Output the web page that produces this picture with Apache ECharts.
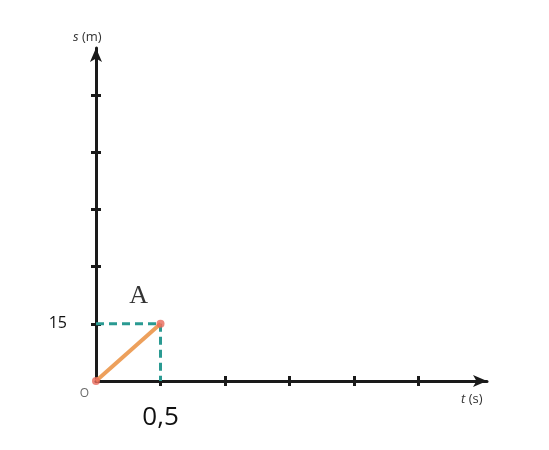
<!DOCTYPE html>
<html>
<head>
<meta charset="utf-8">
<script src="https://cdn.jsdelivr.net/npm/echarts@6/dist/echarts.min.js"></script>
<style>
  html, body { margin: 0; padding: 0; background: #fff; }
  #chart { width: 549px; height: 450px; }
</style>
</head>
<body>
<div id="chart"></div>
<script>
// t in seconds, s in metres
const linePoints = [[0, 0], [0.5, 15]];
const pointNames = ['O', 'A'];
const guideH = [[0, 15], [0.5, 15]];
const guideV = [[0.5, 15], [0.5, 0]];
const xTicks = [0.5, 1, 1.5, 2, 2.5];
const yTicks = [15, 30, 45, 60, 75];
const xShownLabels = { 0.5: '0,5' };
const yShownLabels = { 15: '15' };

const xMin = 0, xMax = 3.03, xStep = 0.5;
const yMin = 0, yMax = 87.3, yStep = 15;

const chart = echarts.init(document.getElementById('chart'));

const axisColor = '#1a1a1a';
const baseX = {
  type: 'value', min: xMin, max: xMax, interval: xStep,
  splitLine: { show: false }
};
const baseY = {
  type: 'value', min: yMin, max: yMax, interval: yStep,
  splitLine: { show: false }
};
const tickStyle = { color: axisColor, width: 3 };

chart.setOption({
  animation: false,
  grid: { left: 96, right: 62, top: 48, bottom: 69, containLabel: false },
  xAxis: [
    {
      ...baseX,
      axisLine: { show: true, symbol: ['none', 'arrow'], symbolSize: [9, 14], lineStyle: { color: axisColor, width: 3 } },
      axisTick: { show: true, length: 5, customValues: xTicks, lineStyle: tickStyle },
      axisLabel: {
        margin: 24, fontSize: 26, color: '#111', fontFamily: 'Open Sans',
        customValues: [0.5],
        formatter: v => xShownLabels[v] || ''
      }
    },
    {
      ...baseX, position: 'bottom',
      axisLine: { show: false },
      axisTick: { show: true, inside: true, length: 5, customValues: xTicks, lineStyle: tickStyle },
      axisLabel: { show: false }
    }
  ],
  yAxis: [
    {
      ...baseY,
      axisLine: { show: true, symbol: ['none', 'arrow'], symbolSize: [9, 14], lineStyle: { color: axisColor, width: 3 } },
      axisTick: { show: true, length: 5, customValues: yTicks, lineStyle: tickStyle },
      axisLabel: {
        margin: 29, fontSize: 16, color: '#111', fontFamily: 'Open Sans',
        customValues: [15],
        formatter: v => yShownLabels[v] || ''
      }
    },
    {
      ...baseY, position: 'left',
      axisLine: { show: false },
      axisTick: { show: true, inside: true, length: 5, customValues: yTicks, lineStyle: tickStyle },
      axisLabel: { show: false }
    }
  ],
  graphic: [
    {
      type: 'text', left: 73, top: 31,
      style: {
        text: '{i|s} (m)', fill: '#333',
        font: '13px "Open Sans"',
        rich: { i: { fontStyle: 'italic', fontSize: 13, fontFamily: 'Open Sans', fill: '#333' } }
      }
    },
    {
      type: 'text', left: 461, top: 393,
      style: {
        text: '{i|t} (s)', fill: '#333',
        font: '13px "Open Sans"',
        rich: { i: { fontStyle: 'italic', fontSize: 13, fontFamily: 'Open Sans', fill: '#333' } }
      }
    }
  ],
  series: [
    {
      type: 'line', data: guideH, symbol: 'none', z: 3,
      lineStyle: { color: '#2a9a92', width: 3, type: [8, 5] }
    },
    {
      type: 'line', data: guideV, symbol: 'none', z: 3,
      lineStyle: { color: '#2a9a92', width: 3, type: [8, 5] }
    },
    {
      type: 'line', data: linePoints, symbol: 'none', z: 4,
      lineStyle: { color: '#eda05c', width: 4 }
    },
    {
      type: 'scatter', z: 5, symbolSize: 8,
      itemStyle: { color: '#e8695a' },
      data: linePoints.map((p, i) => ({
        value: p,
        label: i === 0
          ? { show: true, formatter: pointNames[i], position: 'left', offset: [2, 13], fontSize: 12, color: '#444', fontFamily: 'Open Sans' }
          : { show: true, formatter: pointNames[i], position: 'top', offset: [-22, -6], fontSize: 26, color: '#000', fontFamily: 'Liberation Serif' }
      }))
    }
  ]
});
</script>
</body>
</html>
